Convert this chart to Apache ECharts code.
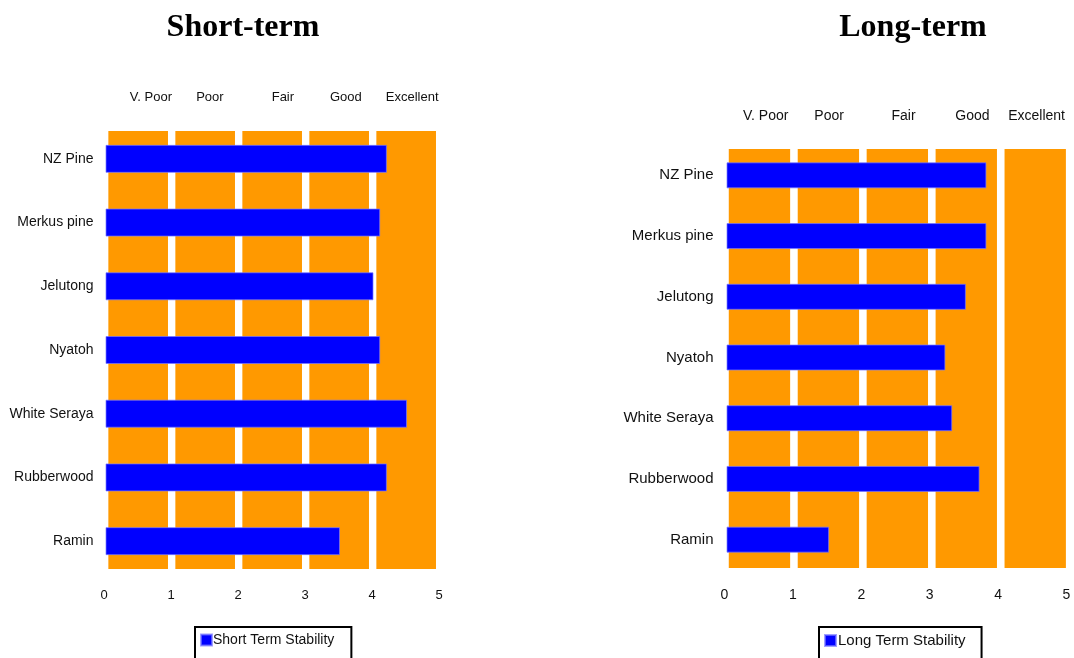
<!DOCTYPE html>
<html>
<head>
<meta charset="utf-8">
<title>Timber stability ratings</title>
<script src="https://cdn.jsdelivr.net/npm/echarts@6/dist/echarts.min.js"></script>
<style>
  html, body { margin: 0; padding: 0; background: #fff; }
  #chart { width: 1074px; height: 658px; }
</style>
</head>
<body>
<div id="chart"></div>
<script>
// Timber species, listed top to bottom
const categories = ['NZ Pine', 'Merkus pine', 'Jelutong', 'Nyatoh', 'White Seraya', 'Rubberwood', 'Ramin'];
// Stability scores (0-5 scale)
const shortTerm = [4.2, 4.1, 4.0, 4.1, 4.5, 4.2, 3.5];
const longTerm = [3.8, 3.8, 3.5, 3.2, 3.3, 3.7, 1.5];
// Rating bands and where their headings sit on the score scale
const ratingLabels = ['V. Poor', 'Poor', 'Fair', 'Good', 'Excellent'];
const shortLabelPos = [0.70, 1.58, 2.67, 3.61, 4.60];
const longLabelPos = [0.60, 1.52, 2.60, 3.60, 4.53];
const ratingCells = [0, 1, 2, 3, 4];
const xMin = 0, xMax = 5, xStep = 1;

const FONT = 'Liberation Sans, Arial, sans-serif';
const TEXT = '#111';
const ORANGE = '#ff9900';
const BLUE = '#0000ff';

// each rating cell is drawn as an orange column with a white gap around integers
function bandAreas(inset0, inset1) {
  return ratingCells.map(n => [{ xAxis: n + inset0 }, { xAxis: n + inset1 }]);
}

function labelFor(positions) {
  return v => {
    const i = positions.findIndex(p => Math.abs(p - v) < 1e-6);
    return i >= 0 ? ratingLabels[i] : '';
  };
}

const panels = [
  { title: 'Short-term', name: 'Short Term Stability', values: shortTerm, labelPos: shortLabelPos,
    barLeft: 105.5, barWidthPx: 335, bandLeft: 104, bandWidthPx: 335,
    barTop: 127, barH: 446, bandTop: 131, bandH: 438, barWidth: 28,
    catFont: 14, catMargin: 12, axisFont: 13,
    tickMargin: 16, tickShift: 3, headMargin: 27,
    legendFont: 14, legendLeft: 195, legendPad: [6, 17, 20, 5], legendTextPad: [0, 0, 0, -4], titleX: 243 },
  { title: 'Long-term', name: 'Long Term Stability', values: longTerm, labelPos: longLabelPos,
    barLeft: 726.5, barWidthPx: 342, bandLeft: 724.3, bandWidthPx: 344.7,
    barTop: 145, barH: 425, bandTop: 149, bandH: 419, barWidth: 26,
    catFont: 15, catMargin: 13, axisFont: 14,
    tickMargin: 18, tickShift: 4, headMargin: 26,
    legendFont: 15, legendLeft: 819, legendPad: [6, 16, 20, 5], legendTextPad: [0, 0, 0, -3], titleX: 913 }
];

const option = {
  animation: false,
  backgroundColor: '#fff',
  title: [], grid: [], xAxis: [], yAxis: [], series: [], legend: []
};

panels.forEach((p, k) => {
  const gBar = k * 2, gBand = k * 2 + 1;
  option.title.push({
    text: p.title, left: p.titleX, top: 12, textAlign: 'center', padding: 0,
    textStyle: { fontFamily: 'Liberation Serif, Times New Roman, serif', fontWeight: 'bold', fontSize: 32, color: '#000' }
  });
  option.grid.push(
    { left: p.barLeft, width: p.barWidthPx, top: p.barTop, height: p.barH },
    { left: p.bandLeft, width: p.bandWidthPx, top: p.bandTop, height: p.bandH }
  );
  option.xAxis.push(
    {
      type: 'value', gridIndex: gBar, min: xMin, max: xMax, interval: xStep,
      axisLine: { show: false }, axisTick: { show: false }, splitLine: { show: false },
      axisLabel: { margin: p.tickMargin, padding: [0, p.tickShift, 0, 0], fontFamily: FONT, fontSize: p.axisFont, color: TEXT }
    },
    {
      type: 'value', gridIndex: gBand, position: 'top', min: xMin, max: xMax,
      axisLine: { show: false }, axisTick: { show: false }, splitLine: { show: false },
      axisLabel: {
        customValues: p.labelPos, formatter: labelFor(p.labelPos),
        margin: p.headMargin, fontFamily: FONT, fontSize: p.axisFont, color: TEXT
      }
    }
  );
  option.yAxis.push(
    {
      type: 'category', gridIndex: gBar, data: categories, inverse: true,
      axisLine: { show: false }, axisTick: { show: false },
      axisLabel: { margin: p.catMargin, fontFamily: FONT, fontSize: p.catFont, color: TEXT }
    },
    { type: 'value', gridIndex: gBand, min: 0, max: 1, show: false }
  );
  option.series.push(
    {
      type: 'scatter', xAxisIndex: gBand, yAxisIndex: gBand, z: 1, silent: true,
      symbolSize: 0, data: [[0, 0]],
      markArea: { silent: true, itemStyle: { color: ORANGE }, data: bandAreas(0.065, 0.955) }
    },
    {
      type: 'bar', name: p.name, xAxisIndex: gBar, yAxisIndex: gBar, z: 3,
      data: p.values, barWidth: p.barWidth,
      itemStyle: { color: BLUE, borderColor: 'rgba(120,120,255,0.7)', borderWidth: 1 }
    }
  );
  option.legend.push({
    data: [{ name: p.name, icon: 'rect' }],
    left: p.legendLeft, top: 627,
    itemWidth: 11, itemHeight: 11,
    padding: p.legendPad,
    borderColor: '#000', borderWidth: 2, borderRadius: 0,
    backgroundColor: '#fff',
    textStyle: { fontFamily: FONT, fontSize: p.legendFont, color: TEXT, padding: p.legendTextPad }
  });
});

const chart = echarts.init(document.getElementById('chart'), null, { renderer: 'canvas' });
chart.setOption(option);
</script>
</body>
</html>
